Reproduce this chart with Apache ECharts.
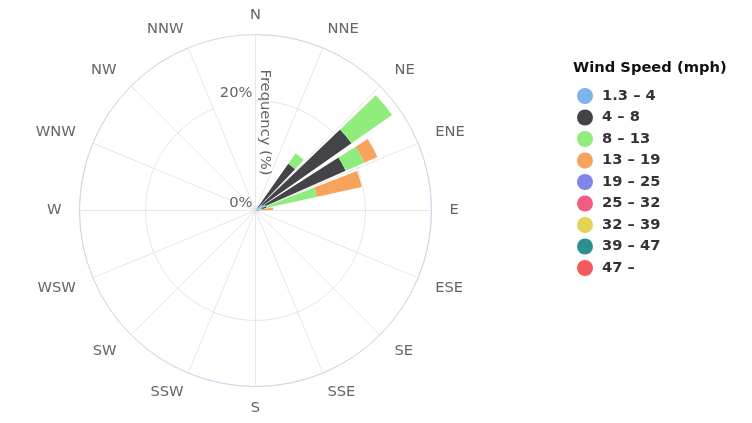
<!DOCTYPE html>
<html>
<head>
<meta charset="utf-8">
<style>html,body{margin:0;padding:0;background:#fff;}#chart{width:752px;height:423px;}</style>
<script src="https://cdn.jsdelivr.net/npm/echarts@6/dist/echarts.min.js"></script>
</head>
<body>
<div id="chart"></div>
<script>
// 16 compass labels shown around the rose
const directions = ['N','NNE','NE','ENE','E','ESE','SE','SSE','S','SSW','SW','WSW','W','WNW','NW','NNW'];
// 32 direction bins (start angle of each 11.25° bin)
const bins = ['0','11.25','22.5','33.75','45','56.25','67.5','78.75','90','101.25','112.5','123.75','135','146.25','157.5','168.75',
              '180','191.25','202.5','213.75','225','236.25','247.5','258.75','270','281.25','292.5','303.75','315','326.25','337.5','348.75'];
const speedClasses = ['1.3 – 4','4 – 8','8 – 13','13 – 19','19 – 25','25 – 32','32 – 39','39 – 47','47 –'];
const radialTicks = [0, 20];
const radialMax = 32;
// frequency (%) per bin for each speed class
const s1_3_4   = [0,0,0,0.5,1.5,2.0,1.2,0.3, 0,0,0,0,0,0,0,0, 0,0,0,0,0,0,0,0, 0,0,0,0,0,0,0,0];
const s4_8     = [0,0,0,9.9,19.8,15.9,0.8,0.3, 0,0,0,0,0,0,0,0, 0,0,0,0,0,0,0,0, 0,0,0,0,0,0,0,0];
const s8_13    = [0,0,0,2.3,9.0,3.7,9.5,0.6, 0,0,0,0,0,0,0,0, 0,0,0,0,0,0,0,0, 0,0,0,0,0,0,0,0];
const s13_19   = [0,0,0,0,0,2.6,8.3,2.0, 0,0,0,0,0,0,0,0, 0,0,0,0,0,0,0,0, 0,0,0,0,0,0,0,0];
const s19_25   = [0,0,0,0,0,0,0,0, 0,0,0,0,0,0,0,0, 0,0,0,0,0,0,0,0, 0,0,0,0,0,0,0,0];
const s25_32   = [0,0,0,0,0,0,0,0, 0,0,0,0,0,0,0,0, 0,0,0,0,0,0,0,0, 0,0,0,0,0,0,0,0];
const s32_39   = [0,0,0,0,0,0,0,0, 0,0,0,0,0,0,0,0, 0,0,0,0,0,0,0,0, 0,0,0,0,0,0,0,0];
const s39_47   = [0,0,0,0,0,0,0,0, 0,0,0,0,0,0,0,0, 0,0,0,0,0,0,0,0, 0,0,0,0,0,0,0,0];
const s47_plus = [0,0,0,0,0,0,0,0, 0,0,0,0,0,0,0,0, 0,0,0,0,0,0,0,0, 0,0,0,0,0,0,0,0];
const seriesValues = [s1_3_4, s4_8, s8_13, s13_19, s19_25, s25_32, s32_39, s39_47, s47_plus];
const colors = ['#7cb5ec','#434348','#90ed7d','#f7a35c','#8085e9','#f15c80','#e4d354','#2b908f','#f45b5b'];

const FONT = '"DejaVu Sans", sans-serif';
const FS = 14.7;
const chart = echarts.init(document.getElementById('chart'), null, {renderer: 'canvas'});
const center = [255.5, 210.5];
const radius = 176;

// label placement styles (layout only)
const base = {color: '#666', fontSize: FS, fontFamily: FONT};
const labelRich = {
  v: Object.assign({}, base),
  s: Object.assign({padding: [2, 0, 0, 0]}, base),
  h: Object.assign({padding: [0, 6, 0, 6]}, base),
  u: Object.assign({padding: [0, 6, 0, 6], lineHeight: 13}, base),
  l: Object.assign({padding: [0, 6, 0, 6], lineHeight: 11}, base)
};
const labelGroup = {N: 'v', NNE: 'v', NNW: 'v', SSE: 'v', SSW: 'v', S: 's',
  E: 'h', W: 'h', NE: 'h', NW: 'h', SE: 'h', SW: 'h', ENE: 'u', WNW: 'u', ESE: 'l', WSW: 'l'};

chart.setOption({
  animation: false,
  color: colors,
  textStyle: {fontFamily: FONT},
  title: {
    text: 'Wind Speed (mph)', left: 573, top: 59, padding: 0,
    textStyle: {fontFamily: FONT, fontSize: FS, fontWeight: 'bold', color: '#111', lineHeight: 18}
  },
  legend: {
    orient: 'vertical', left: 577, top: 88, padding: 0,
    itemWidth: 16, itemHeight: 16, itemGap: 5.5, icon: 'circle',
    data: speedClasses,
    textStyle: {fontFamily: FONT, fontSize: FS, fontWeight: 'bold', color: '#333', lineHeight: 16, padding: [0,0,0,4]}
  },
  polar: [{center: center, radius: radius}, {center: center, radius: radius}],
  angleAxis: [
    {
      polarIndex: 0, type: 'category', data: bins, startAngle: 90, clockwise: true, boundaryGap: true, z: 1,
      axisLine: {show: true, lineStyle: {color: '#ccd6eb', width: 1}},
      axisTick: {show: false}, axisLabel: {show: false}, splitLine: {show: false}
    },
    {
      polarIndex: 1, type: 'category', data: directions, startAngle: 90, clockwise: true, boundaryGap: false, z: 0,
      axisLine: {show: false},
      axisTick: {show: false},
      axisLabel: {
        show: true, color: '#666', fontSize: FS, fontFamily: FONT, margin: 12,
        formatter: v => '{' + (labelGroup[v] || 'v') + '|' + v + '}',
        rich: labelRich
      },
      splitLine: {show: true, lineStyle: {color: '#e6e6e6', width: 1}}
    }
  ],
  radiusAxis: [
    {polarIndex: 0, type: 'value', min: 0, max: radialMax, show: false},
    {
      polarIndex: 1, type: 'value', min: 0, max: radialMax, interval: 20, z: 0,
      axisLine: {show: false}, axisTick: {show: false},
      axisLabel: {
        show: true, color: '#666', fontSize: FS, fontFamily: FONT, margin: 3,
        verticalAlign: 'bottom',
        formatter: v => radialTicks.indexOf(v) >= 0 ? v + '%' : ''
      },
      splitLine: {show: true, lineStyle: {color: '#e6e6e6', width: 1}},
      name: 'Frequency (%)', nameLocation: 'middle', nameGap: 2, nameRotate: -90,
      nameTextStyle: {color: '#666', fontSize: FS, fontFamily: FONT}
    }
  ],
  series: speedClasses.map((name, i) => ({
    name: name, type: 'bar', coordinateSystem: 'polar', polarIndex: 0,
    stack: 'wind', data: seriesValues[i], barCategoryGap: '22%',
    itemStyle: {color: colors[i]}, z: 3
  }))
});
</script>
</body>
</html>
